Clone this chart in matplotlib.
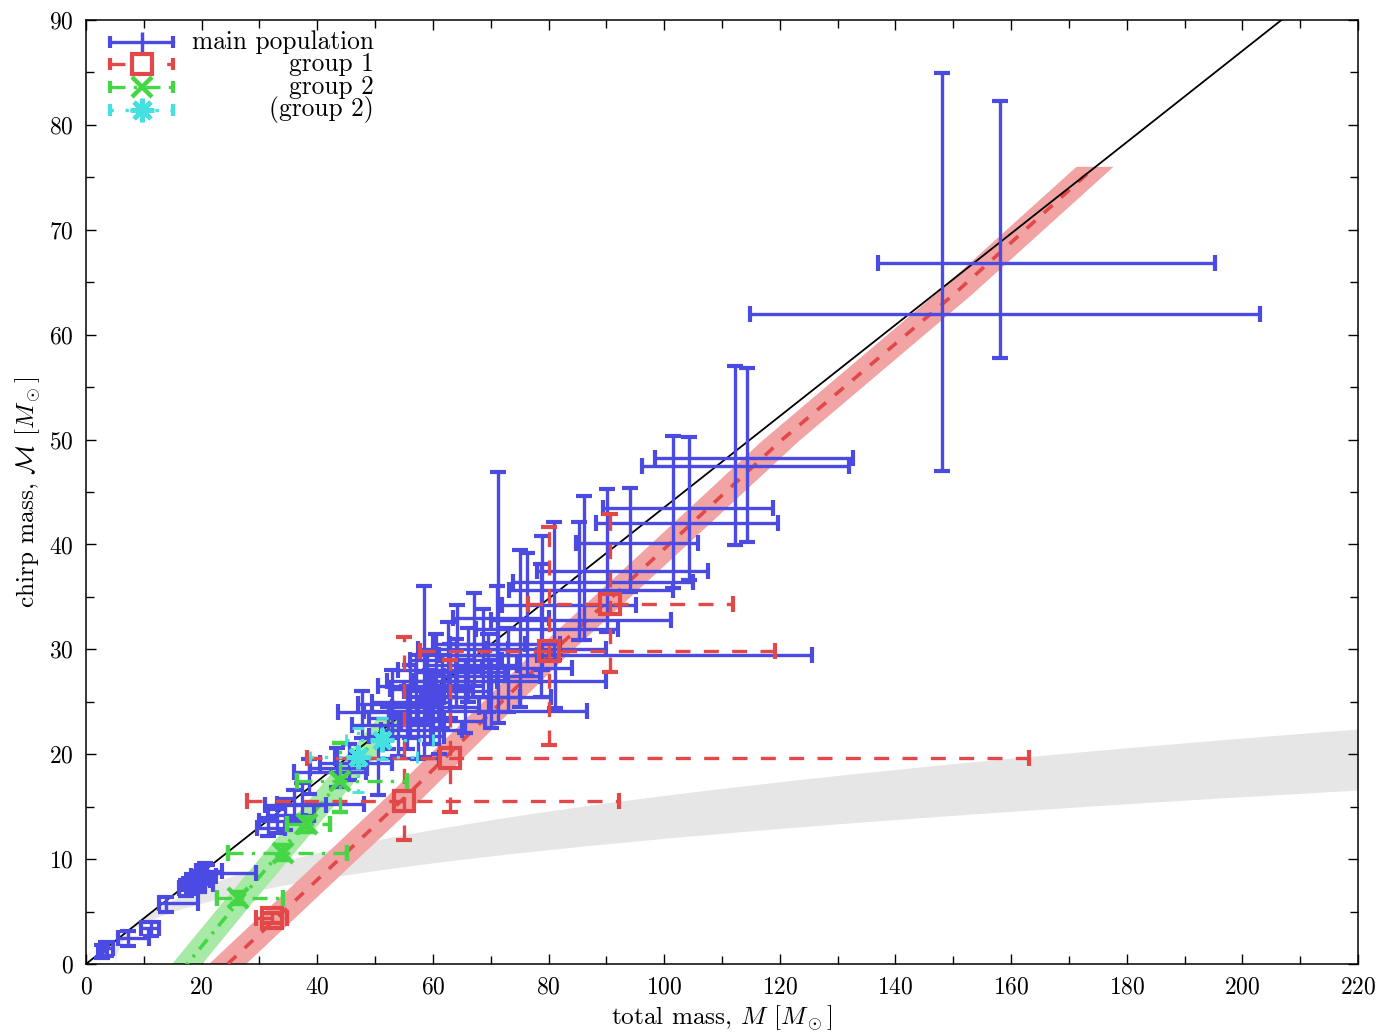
import numpy as np
import matplotlib
matplotlib.use("Agg")
import matplotlib.pyplot as plt
from matplotlib.ticker import MultipleLocator

plt.rcParams['font.family'] = 'serif'
plt.rcParams['font.serif'] = ['cmr10', 'DejaVu Serif']
plt.rcParams['mathtext.fontset'] = 'cm'
plt.rcParams['axes.formatter.use_mathtext'] = True

# main population: M, Mc, M low, M high, Mc low, Mc high
main_M = [2.8, 3.5, 7.3, 11.2, 13.8, 17.3, 18.3, 19.2, 19.5, 20.0, 20.5, 21.0,
          31.5, 33.0, 34.5, 36.0, 37.4, 38.5, 43.4, 45.5, 50.5, 47.7, 52.3, 54.0,
          55.5, 56.0, 57.0, 58.5, 59.5, 60.0, 60.5, 61.5, 62.6, 63.0, 64.2, 65.5,
          66.0, 67.1, 68.7, 69.5, 70.0, 71.0, 71.2, 73.0, 75.1, 76.2, 78.7, 78.9,
          81.0, 81.1, 85.3, 86.1, 90.1, 94.1, 101.5, 104.3, 112.2, 114.3, 148.0, 158.0,
          57.5, 59.0, 61.0, 64.0, 53.0]
main_Mc = [1.2, 1.5, 2.5, 3.4, 5.8, 7.2, 7.6, 8.0, 7.6, 8.4, 8.9, 8.7,
           13.0, 13.6, 14.2, 15.2, 15.3, 18.3, 18.7, 19.2, 19.6, 24.0, 22.8, 21.7,
           23.5, 25.0, 26.5, 27.0, 24.5, 24.1, 28.0, 26.0, 29.0, 27.0, 30.0, 25.5,
           28.5, 30.5, 29.5, 27.5, 25.5, 30.5, 33.0, 28.2, 29.5, 31.9, 30.0, 32.8,
           34.2, 27.0, 36.4, 35.7, 37.5, 40.1, 43.5, 42.0, 48.2, 47.5, 62.0, 66.8,
           22.3, 26.2, 23.2, 27.8, 24.8]
main_M_lo = [2.0, 2.6, 5.5, 9.5, 12.6, 16.0, 16.8, 17.5, 18.0, 18.2, 19.0, 19.5,
             29.5, 30.0, 31.5, 31.0, 33.0, 36.0, 38.7, 40.5, 43.0, 43.5, 46.0, 49.0,
             49.0, 49.5, 50.5, 52.0, 53.0, 48.0, 54.0, 55.0, 56.0, 56.5, 57.5, 58.0,
             59.0, 60.0, 61.0, 62.0, 62.0, 63.0, 63.5, 64.0, 63.0, 67.5, 69.0, 70.0,
             72.0, 70.0, 73.9, 73.2, 78.0, 84.7, 89.4, 88.2, 98.4, 96.2, 114.8, 137.0,
             51.0, 52.5, 54.5, 57.0, 47.0]
main_M_hi = [3.6, 4.6, 10.9, 12.6, 19.4, 19.0, 20.5, 21.5, 22.0, 22.5, 23.5, 29.4,
             34.5, 38.0, 39.5, 41.5, 48.0, 48.5, 48.6, 53.0, 61.0, 61.0, 60.0, 62.0,
             62.0, 63.0, 64.0, 66.0, 68.0, 86.6, 68.5, 70.0, 72.0, 71.0, 73.0, 75.0,
             74.5, 76.0, 78.0, 78.5, 80.5, 82.0, 80.0, 84.0, 125.6, 92.0, 90.0, 101.2,
             95.1, 90.0, 105.0, 101.5, 107.6, 105.8, 118.8, 119.7, 132.7, 132.0, 203.0, 195.3,
             65.0, 67.0, 69.0, 72.5, 60.0]
main_Mc_lo = [0.6, 0.8, 1.7, 2.7, 5.0, 6.5, 6.8, 7.2, 6.9, 7.6, 8.2, 8.0,
              12.2, 12.5, 12.8, 13.8, 14.0, 16.2, 16.9, 17.5, 16.1, 21.5, 20.5, 19.8,
              20.5, 21.5, 23.0, 19.7, 21.0, 21.0, 24.5, 22.5, 25.5, 23.5, 26.5, 22.0,
              25.0, 26.5, 25.5, 24.0, 22.5, 27.0, 23.0, 24.0, 24.5, 27.5, 25.5, 28.0,
              29.0, 24.4, 30.9, 30.9, 31.7, 35.5, 35.8, 36.6, 39.9, 40.2, 47.0, 57.8,
              19.5, 23.0, 20.0, 24.5, 21.5]
main_Mc_hi = [1.8, 2.1, 3.1, 4.0, 6.4, 8.0, 8.6, 8.9, 8.3, 9.3, 9.6, 9.4,
              13.9, 14.8, 15.7, 16.6, 17.3, 19.5, 20.6, 21.0, 21.4, 26.0, 24.5, 23.6,
              26.5, 28.5, 29.5, 36.0, 28.0, 27.5, 31.5, 29.5, 32.6, 30.5, 34.2, 29.0,
              32.0, 35.4, 33.8, 31.5, 29.0, 36.0, 46.9, 32.0, 39.5, 39.2, 38.1, 40.8,
              42.1, 29.5, 42.1, 44.6, 45.3, 45.4, 50.3, 50.2, 57.0, 56.8, 84.9, 82.3,
              25.5, 29.5, 26.5, 31.0, 28.0]

# group 1
g1_M = [32.2, 55.0, 63.0, 80.1, 90.6]
g1_Mc = [4.4, 15.5, 19.6, 29.8, 34.3]
g1_M_lo = [29.4, 27.8, 38.2, 57.8, 76.4]
g1_M_hi = [34.8, 92.2, 163.1, 119.2, 111.9]
g1_Mc_lo = [3.9, 11.8, 14.5, 20.9, 27.8]
g1_Mc_hi = [4.9, 31.2, 29.0, 41.7, 42.9]

# group 2
g2_M = [26.3, 34.1, 38.2, 43.9]
g2_Mc = [6.3, 10.6, 13.3, 17.4]
g2_M_lo = [22.7, 24.6, 34.8, 36.5]
g2_M_hi = [34.1, 45.1, 42.2, 55.5]
g2_Mc_lo = [5.7, 9.9, 12.6, 14.5]
g2_Mc_hi = [6.9, 11.3, 14.0, 21.1]

# (group 2)
g2b_M = [47.0, 51.2]
g2b_Mc = [19.7, 21.4]
g2b_M_lo = [38.7, 45.0]
g2b_M_hi = [57.2, 60.0]
g2b_Mc_lo = [16.4, 19.5]
g2b_Mc_hi = [22.5, 23.5]

# model bands: centre lines, half width in M
red_band_M = [18.7, 24.5, 55.0, 80.0, 103.0, 120.0, 150.0, 174.5]
red_band_Mc = [-3.0, 0.0, 15.8, 29.4, 41.1, 49.8, 63.8, 76.0]
red_dM = 3.2
green_band_M = [13.0, 17.5, 26.3, 34.1, 43.9, 53.0]
green_band_Mc = [-3.0, 0.0, 5.9, 11.0, 17.4, 23.4]
green_dM = 2.6
gray_m_lo, gray_m_hi = 3.0, 5.0   # fixed component mass range

BLUE = '#4b4be3'
RED = '#e34848'
GREEN = '#45d645'
CYAN = '#45e0e0'


def chirp(M, m):
    m1 = np.clip(M - m, 0, None)
    return (m * m1) ** 0.6 / M ** 0.2


def errs(c, lo, hi):
    c, lo, hi = np.array(c), np.array(lo), np.array(hi)
    return np.vstack([c - lo, hi - c])


def band(ax, M, Mc, dM, color):
    M, Mc = np.array(M), np.array(Mc)
    ax.fill(np.r_[M - dM, (M + dM)[::-1]], np.r_[Mc, Mc[::-1]], color=color, lw=0, zorder=2)


fig = plt.figure(figsize=(13.92, 10.34), dpi=100)
ax = fig.add_axes([86 / 1392, 1 - 964 / 1034, 1272 / 1392, 944 / 1034])

# gray band
Mg = np.linspace(5.0, 220, 600)
ax.fill_between(Mg, chirp(Mg, gray_m_lo), chirp(Mg, gray_m_hi), color='#e6e6e6', lw=0, zorder=1)

# red band
band(ax, red_band_M, red_band_Mc, red_dM, '#f2a3a3')
ax.plot(red_band_M, red_band_Mc, color=RED, lw=2.6, dashes=(3.2, 3.2), zorder=3)

# green band
band(ax, green_band_M, green_band_Mc, green_dM, '#a6eaa6')
ax.plot(green_band_M, green_band_Mc, color=GREEN, lw=2.6, dashes=(3.5, 2, 0.8, 2), zorder=3)

# equal-mass line
Ml = np.array([0, 220])
ax.plot(Ml, Ml * 4 ** (-0.6), color='black', lw=1.3, zorder=4)

# main population
ax.errorbar(main_M, main_Mc, xerr=errs(main_M, main_M_lo, main_M_hi),
            yerr=errs(main_Mc, main_Mc_lo, main_Mc_hi), fmt='none',
            ecolor=BLUE, elinewidth=2.4, capsize=5.5, capthick=3, zorder=5)

# group 1
eb = ax.errorbar(g1_M, g1_Mc, xerr=errs(g1_M, g1_M_lo, g1_M_hi),
                 yerr=errs(g1_Mc, g1_Mc_lo, g1_Mc_hi), fmt='s', ms=14, mfc='none',
                 mec=RED, mew=3, ecolor=RED, elinewidth=2.4, capsize=5.5, capthick=3, zorder=6)
for lc in eb.lines[2]:
    lc.set_linestyle((0, (4.5, 4)))

# group 2
eb = ax.errorbar(g2_M, g2_Mc, xerr=errs(g2_M, g2_M_lo, g2_M_hi),
                 yerr=errs(g2_Mc, g2_Mc_lo, g2_Mc_hi), fmt='x', ms=15,
                 mec=GREEN, mew=3.2, ecolor=GREEN, elinewidth=2.4, capsize=5.5, capthick=3, zorder=7)
for lc in eb.lines[2]:
    lc.set_linestyle((0, (4.5, 2.5, 1, 2.5)))

# (group 2)
eb = ax.errorbar(g2b_M, g2b_Mc, xerr=errs(g2b_M, g2b_M_lo, g2b_M_hi),
                 yerr=errs(g2b_Mc, g2b_Mc_lo, g2b_Mc_hi), fmt='none',
                 ecolor=CYAN, elinewidth=2.3, capsize=4, capthick=2, zorder=8)
for lc in eb.lines[2]:
    lc.set_linestyle((0, (1, 3.5)))
ax.plot(g2b_M, g2b_Mc, ls='none', marker=(8, 2, 0), ms=17, mec=CYAN, mew=3.2, zorder=8)

ax.set_xlim(0, 220)
ax.set_ylim(0, 90)
ax.xaxis.set_major_locator(MultipleLocator(20))
ax.xaxis.set_minor_locator(MultipleLocator(10))
ax.yaxis.set_major_locator(MultipleLocator(10))
ax.yaxis.set_minor_locator(MultipleLocator(5))
ax.tick_params(which='both', direction='in', top=True, right=True, labelsize=17, width=1.0)
ax.tick_params(which='major', length=7)
ax.tick_params(which='minor', length=6)
ax.tick_params(axis='x', pad=9)
ax.tick_params(axis='y', pad=9)
for s in ax.spines.values():
    s.set_linewidth(1.1)

ax.set_xlabel(r'total mass, $M$ [$M_\odot$]', fontsize=18.2, labelpad=4)
ax.set_ylabel(r'chirp mass, $\mathcal{M}$ [$M_\odot$]', fontsize=18.2, labelpad=4)

# gnuplot-like key drawn by hand
rows = [0.9767, 0.9534, 0.929, 0.9047]
x0, x1 = 0.0189, 0.0684
xm = (x0 + x1) / 2
tr = ax.transAxes
labels = ['main population', 'group 1', 'group 2', '(group 2)']
styles = ['-', (0, (4.5, 4)), (0, (4.5, 2.5, 1, 2.5)), (0, (1, 3.5))]
colors = [BLUE, RED, GREEN, CYAN]
for y, lab, st, c in zip(rows, labels, styles, colors):
    ax.plot([x0, x1], [y, y], transform=tr, color=c, lw=2.4, ls=st, clip_on=False, zorder=10)
    ax.plot([x0, x1], [y, y], transform=tr, ls='none', marker='|', ms=8, mew=3, color=c,
            clip_on=False, zorder=10)
    ax.text(0.2264, y, lab, transform=tr, ha='right', va='center', fontsize=18.3, zorder=10)
ax.plot([xm], [rows[0]], transform=tr, marker='|', ms=14, mew=2.5, color=BLUE, clip_on=False, zorder=10)
ax.plot([xm], [rows[1]], transform=tr, marker='s', ms=14, mfc='white', mec=RED, mew=3, clip_on=False, zorder=11)
ax.plot([xm], [rows[2]], transform=tr, marker='x', ms=15, mec=GREEN, mew=3.2, clip_on=False, zorder=11)
ax.plot([xm], [rows[3]], transform=tr, marker=(8, 2, 0), ms=17, mec=CYAN, mew=3.2, clip_on=False, zorder=11)

fig.savefig('out.png', dpi=100)
